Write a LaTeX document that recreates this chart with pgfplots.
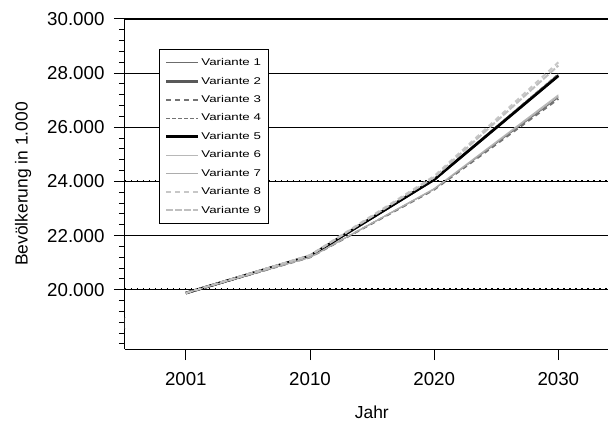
\documentclass[border=0pt]{standalone}
\usepackage{fontspec}
\setmainfont{Liberation Sans}
\newfontfamily\legfont[FakeStretch=1.36]{Liberation Sans}
\usepackage{pgfplots}
\pgfplotsset{compat=1.18}
\begin{document}
\begin{tikzpicture}[x=1bp,y=1bp]
\useasboundingbox (-125bp,-79bp) rectangle (483bp,349bp);
\begin{axis}[
  at={(0,0)}, anchor=south west,
  scale only axis, width=483bp, height=330bp,
  xmin=-0.49, xmax=3.4, ymin=17815, ymax=30000,
  xtick={0,1,2,3}, xticklabels={2001,2010,2020,2030},
  ytick={22000,26000,28000,30000},
  extra y ticks={20000,24000},
  extra y tick style={major grid style={black, line width=1.1bp}},
  minor ytick={18000,18400,...,29600},
  ymajorgrids, major grid style={black, line width=1.2bp},
  axis x line*=bottom, axis y line*=left,
  axis line style={-, line width=1bp},
  tick align=outside,
  major tick length=11bp, minor tick length=6bp,
  tick style={black, line width=1bp},
  scaled y ticks=false,
  /pgf/number format/assume math mode=true,
  /pgf/number format/1000 sep={.},
  /pgf/number format/fixed, /pgf/number format/precision=0,
  tick label style={font=\fontsize{18.8}{21}\selectfont},
  label style={font=\fontsize{17.5}{20}\selectfont},
  yticklabel shift=6bp,
  xticklabel shift=9bp,
  xlabel={Jahr}, ylabel={Bevölkerung in 1.000},
  xlabel style={at={(axis description cs:0.511,-0.191)}, anchor=center},
  ylabel style={at={(axis description cs:-0.211,0.5)}, anchor=center},
  legend style={at={(0.07,0.909)}, anchor=north west, draw=black, line width=1bp,
    font=\legfont\fontsize{9.8}{10}\selectfont, row sep=5.9bp, inner xsep=5.5bp, inner ysep=7bp},
  legend cell align=left,
  legend image code/.code={\draw[#1] (0bp,0bp) -- (32bp,0bp);},
]
\addplot[gray!85!black, line width=1bp] coordinates {(0,19880) (1,21200) (2,23720) (3,27100)};
\addlegendentry{Variante 1}
\addplot[black!65, line width=2.6bp] coordinates {(0,19880) (1,21250) (2,24070) (3,27920)};
\addlegendentry{Variante 2}
\addplot[black!55, line width=2bp, dash pattern=on 5bp off 4bp] coordinates {(0,19880) (1,21200) (2,23700) (3,27050)};
\addlegendentry{Variante 3}
\addplot[black!55, line width=1bp, dash pattern=on 4bp off 2bp] coordinates {(0,19880) (1,21250) (2,24090) (3,27980)};
\addlegendentry{Variante 4}
\addplot[black, line width=2.6bp] coordinates {(0,19880) (1,21250) (2,24070) (3,27900)};
\addlegendentry{Variante 5}
\addplot[black!28, line width=1bp] coordinates {(0,19880) (1,21200) (2,23740) (3,27200)};
\addlegendentry{Variante 6}
\addplot[black!32, line width=1bp] coordinates {(0,19880) (1,21200) (2,23720) (3,27150)};
\addlegendentry{Variante 7}
\addplot[black!22, line width=2bp, dash pattern=on 5bp off 4bp] coordinates {(0,19880) (1,21280) (2,24200) (3,28400)};
\addlegendentry{Variante 8}
\addplot[black!25, line width=2bp, dash pattern=on 7bp off 2bp] coordinates {(0,19880) (1,21270) (2,24150) (3,28280)};
\addlegendentry{Variante 9}
% dotted overlay on 20.000 and 24.000 grid lines
\draw[black, line width=1.5bp, dash pattern=on 1.5bp off 4.5bp, yshift=1.2bp] (axis cs:-0.49,20000) -- (axis cs:3.4,20000);
\draw[black, line width=1.5bp, dash pattern=on 1.5bp off 4.5bp, yshift=1.2bp] (axis cs:-0.49,24000) -- (axis cs:3.4,24000);
% axis break
\fill[white] ([xshift=-13bp]axis cs:-0.49,18980) rectangle ([xshift=3bp]axis cs:-0.49,18560);
\draw[black, line width=1bp] (axis cs:-0.49,18990) -- ++(-3bp,-2bp);
\draw[black, line width=1bp] (axis cs:-0.49,18550) -- ++(-3bp,2bp);
\draw[black, line width=1bp] ([xshift=-6bp]axis cs:-0.49,18550) -- ++(6bp,0);
\end{axis}
\end{tikzpicture}
\end{document}
